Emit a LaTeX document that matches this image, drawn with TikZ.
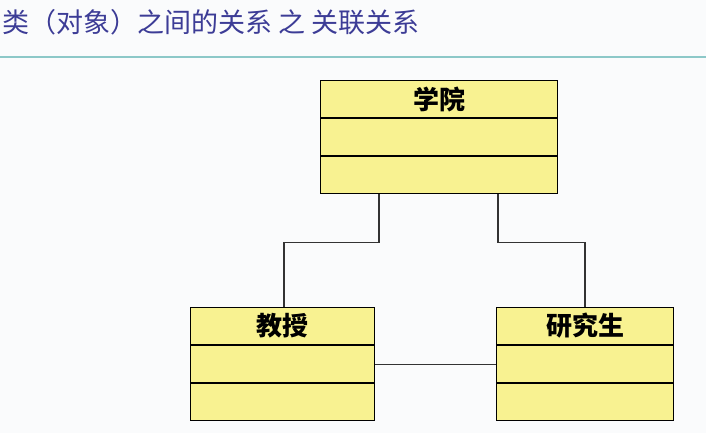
\documentclass[tikz,border=0pt]{standalone}
\usepackage{fontspec}
\newfontfamily\cjk{Noto Sans CJK SC}
\usetikzlibrary{positioning, calc}
\definecolor{titleblue}{RGB}{60,60,150}
\definecolor{rulecyan}{RGB}{140,200,200}
\definecolor{classfill}{RGB}{248,242,145}
\definecolor{bgray}{RGB}{250,251,252}

\begin{document}
\begin{tikzpicture}[x=1pt, y=-1pt,
cls/.style={rectangle, draw=black, line width=1.3pt, fill=classfill, minimum height=113pt, anchor=north west},
lbl/.style={font=\cjk\bfseries\fontsize{26}{26}\selectfont, inner sep=0pt},
link/.style={draw=black!80, line width=1.1pt} ]
\fill[bgray] (0,0) rectangle (706,433);
\useasboundingbox (0,0) rectangle (706,433);
\node (T) [anchor=west, text=titleblue, font=\cjk\fontsize{27}{27}\selectfont, inner sep=0pt] at (2,22) {类（对象）之间的关系\ 之\ 关联关系};
\draw[rulecyan, line width=1.2pt] (0,57) -- (706,57);

\node (XY) [cls, minimum width=237pt] at (320,80) {};
\node (JS) [cls, minimum width=184pt] at (190,307) {};
\node (YJ) [cls, minimum width=177pt] at (496,307) {};
\foreach \b in {XY, JS, YJ} {
  \draw[line width=1.3pt] ($(\b.north west)+(0,38)$) -- ($(\b.north east)+(0,38)$);
  \draw[line width=1.3pt] ($(\b.north west)+(0,76)$) -- ($(\b.north east)+(0,76)$);
}
\node (XYl) [lbl] at ($(XY.north)+(0,19)$) {学院};
\node (JSl) [lbl] at ($(JS.north)+(0,19)$) {教授};
\node (YJl) [lbl] at ($(YJ.north)+(0,19)$) {研究生};

\coordinate (XYa) at ($(XY.south west)+(59,0)$);
\coordinate (XYb) at ($(XY.south west)+(178,0)$);
\draw[link] (XYa) -- ++(0,48) -| ($(JS.north west)+(94,0)$);
\draw[link] (XYb) -- ++(0,48) -| ($(YJ.north west)+(89,0)$);
\draw[link] (JS.east) -- (YJ.west);
\end{tikzpicture}
\end{document}
